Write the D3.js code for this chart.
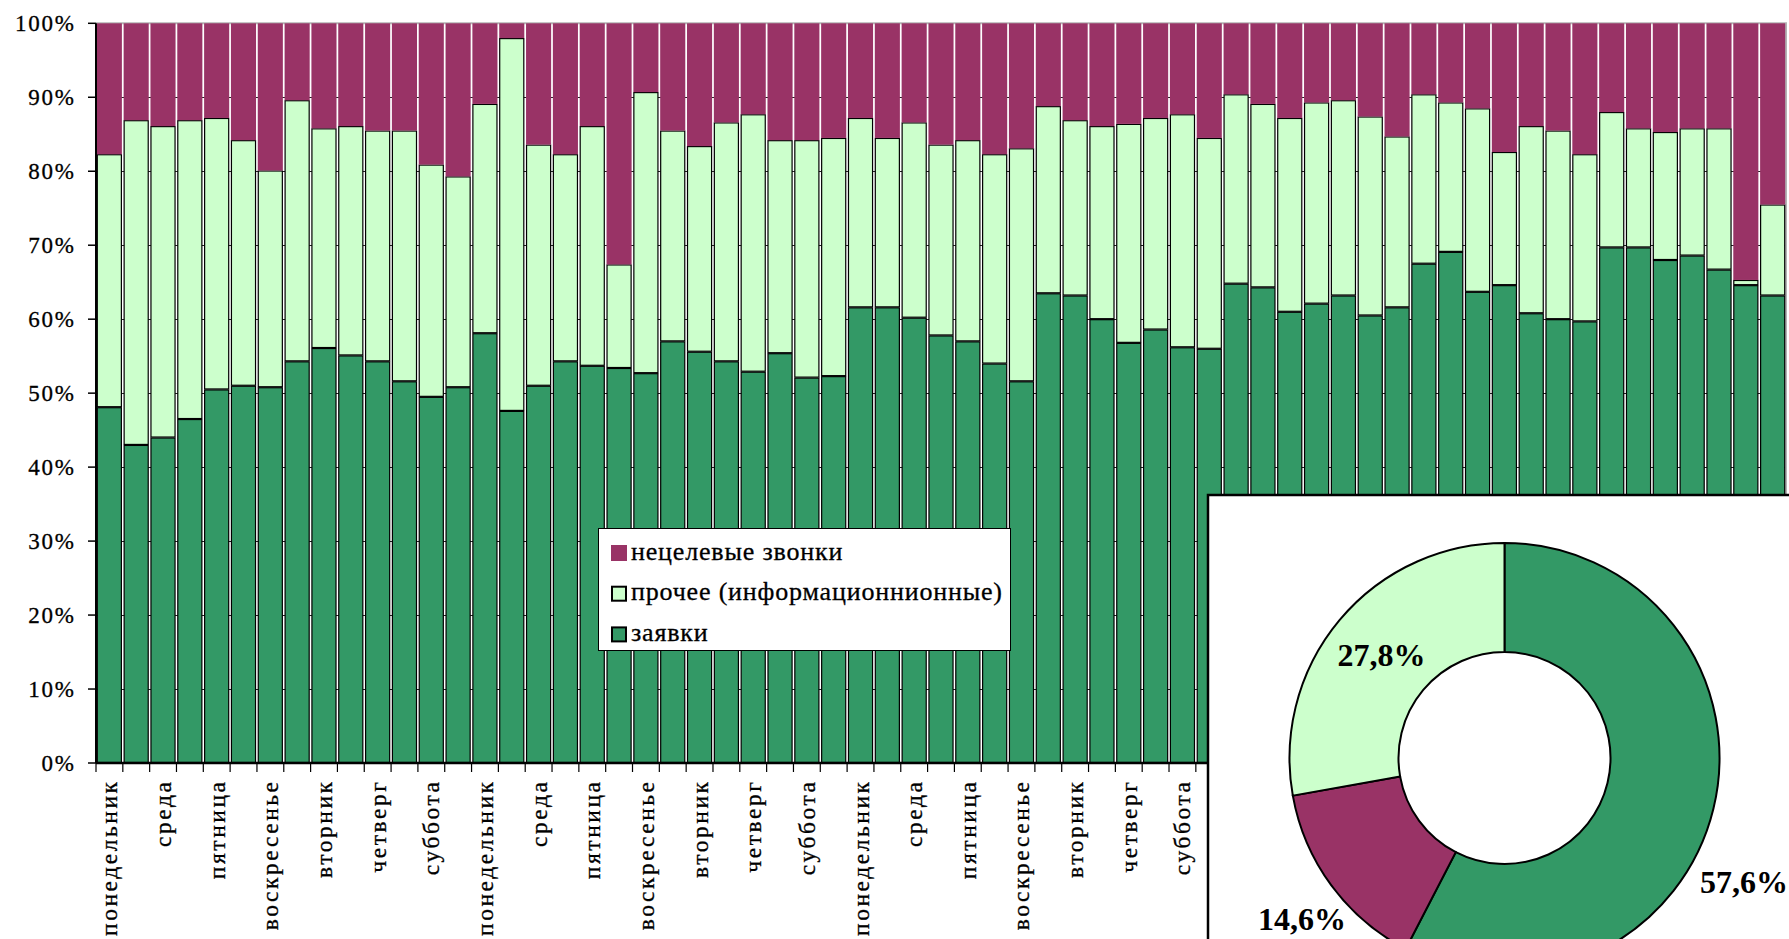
<!DOCTYPE html>
<html>
<head>
<meta charset="utf-8">
<script src="https://cdn.jsdelivr.net/npm/d3@7"></script>
<style>
  html, body { margin: 0; padding: 0; background: #fff; overflow: hidden; }
  svg { display: block; }
  text { font-family: "Liberation Serif", "Times New Roman", serif; fill: #000; }
  text.plain { stroke: #000; stroke-width: 0.3px; }
</style>
</head>
<body>
<svg id="chart" width="1789" height="939"></svg>
<script>
// Daily call mix, share of each call type per day (percent)
const days = [
  "понедельник","вторник","среда","четверг","пятница","суббота","воскресенье",
  "понедельник","вторник","среда","четверг","пятница","суббота","воскресенье",
  "понедельник","вторник","среда","четверг","пятница","суббота","воскресенье",
  "понедельник","вторник","среда","четверг","пятница","суббота","воскресенье",
  "понедельник","вторник","среда","четверг","пятница","суббота","воскресенье",
  "понедельник","вторник","среда","четверг","пятница","суббота","воскресенье",
  "понедельник","вторник","среда","четверг","пятница","суббота","воскресенье",
  "понедельник","вторник","среда","четверг","пятница","суббота","воскресенье",
  "понедельник","вторник","среда","четверг","пятница","суббота","воскресенье"
];

// заявки
const zayavki = [
  48.1, 43.0, 44.0, 46.5, 50.5, 51.0, 50.8,
  54.3, 56.1, 55.1, 54.3, 51.6, 49.5, 50.8,
  58.1, 47.6, 51.0, 54.3, 53.7, 53.4, 52.7,
  57.0, 55.6, 54.3, 52.9, 55.4, 52.1, 52.3,
  61.6, 61.6, 60.2, 57.8, 57.0, 54.0, 51.6,
  63.5, 63.2, 60.0, 56.8, 58.6, 56.2, 56.0,
  64.8, 64.3, 61.0, 62.1, 63.2, 60.5, 61.6,
  67.5, 69.1, 63.7, 64.6, 60.8, 60.0, 59.7,
  69.7, 69.7, 68.0, 68.6, 66.7, 64.6, 63.2
];

// прочее (информационные)
const prochee = [
  34.2, 43.9, 42.1, 40.4, 36.7, 33.2, 29.3,
  35.3, 29.7, 31.0, 31.2, 33.9, 31.4, 28.5,
  31.0, 50.4, 32.6, 28.0, 32.4, 14.0, 38.0,
  28.5, 27.8, 32.3, 34.8, 28.8, 32.1, 32.2,
  25.6, 22.9, 26.4, 25.8, 27.2, 28.3, 31.5,
  25.3, 23.7, 26.1, 29.6, 28.6, 31.5, 28.5,
  25.6, 24.8, 26.2, 27.2, 26.4, 26.9, 23.1,
  22.9, 20.2, 24.8, 18.0, 25.3, 25.5, 22.6,
  18.3, 16.1, 17.3, 17.2, 19.1, 0.7, 12.3
];

// нецелевые звонки
const netselevye = [
  17.7, 13.1, 13.9, 13.1, 12.8, 15.8, 19.9,
  10.4, 14.2, 13.9, 14.5, 14.5, 19.1, 20.7,
  10.9, 2.0, 16.4, 17.7, 13.9, 32.6, 9.3,
  14.5, 16.6, 13.4, 12.3, 15.8, 15.8, 15.5,
  12.8, 15.5, 13.4, 16.4, 15.8, 17.7, 16.9,
  11.2, 13.1, 13.9, 13.6, 12.8, 12.3, 15.5,
  9.6, 10.9, 12.8, 10.7, 10.4, 12.6, 15.3,
  9.6, 10.7, 11.5, 17.4, 13.9, 14.5, 17.7,
  12.0, 14.2, 14.7, 14.2, 14.2, 34.7, 24.5
];

const yTicks = [0, 10, 20, 30, 40, 50, 60, 70, 80, 90, 100];

// overall totals for the whole period
const pieSeries = ["заявки", "нецелевые звонки", "прочее (информационнионные)"];
const pieValues = [57.6, 14.6, 27.8];
const pieTexts = ["57,6%", "14,6%", "27,8%"];

const legendSeries = ["нецелевые звонки", "прочее (информационнионные)", "заявки"];

const colors = {
  "заявки": "#339966",
  "прочее (информационнионные)": "#CCFFCC",
  "нецелевые звонки": "#993366"
};

// ---------- layout ----------
const svg = d3.select("#chart");
const plot = { left: 96, right: 1786, top: 23.3, bottom: 763 };

// letter spacing that makes a sample string span a given width
function spacingFor(sample, fontSize, width) {
  const t = svg.append("text").attr("font-size", fontSize).text(sample);
  const natural = t.node().getComputedTextLength();
  t.remove();
  return (width - natural) / (sample.length - 1);
}

const rows = days.map((d, i) => ({
  i: i,
  day: d,
  "заявки": zayavki[i],
  "прочее (информационнионные)": prochee[i],
  "нецелевые звонки": netselevye[i]
}));

const stackKeys = ["заявки", "прочее (информационнионные)", "нецелевые звонки"];
const series = d3.stack().keys(stackKeys).offset(d3.stackOffsetExpand)(rows);

const x = d3.scaleBand()
  .domain(rows.map(r => r.i))
  .range([plot.left, plot.right])
  .paddingInner(0.065)
  .paddingOuter(0.03);

const y = d3.scaleLinear().domain([0, 1]).range([plot.bottom, plot.top]);
const yPct = d3.scaleLinear().domain([0, 100]).range([plot.bottom, plot.top]);

// plot area
svg.append("rect")
  .attr("x", plot.left).attr("y", plot.top)
  .attr("width", plot.right - plot.left).attr("height", plot.bottom - plot.top)
  .attr("fill", "#fff");

// gridlines
svg.append("g")
  .selectAll("line")
  .data(yTicks.filter(t => t > 0 && t < 100))
  .join("line")
  .attr("x1", plot.left).attr("x2", plot.right)
  .attr("y1", d => Math.round(yPct(d)) + 0.5).attr("y2", d => Math.round(yPct(d)) + 0.5)
  .attr("stroke", "#222").attr("stroke-width", 1);

// plot frame (top and right)
svg.append("path")
  .attr("d", `M${plot.left},${plot.top} H${plot.right} V${plot.bottom}`)
  .attr("fill", "none").attr("stroke", "#b4b4b4").attr("stroke-width", 2);

// stacked bars
const barG = svg.append("g");
series.forEach(s => {
  const outlined = s.key !== "нецелевые звонки";
  barG.append("g")
    .selectAll("rect")
    .data(s)
    .join("rect")
    .attr("x", (d, j) => x(j) + (outlined ? 0.5 : 0))
    .attr("width", x.bandwidth() - (outlined ? 1 : 0))
    .attr("y", d => y(d[1]) + (outlined ? 0.5 : 0))
    .attr("height", d => Math.max(0, y(d[0]) - y(d[1]) - (outlined ? 1 : 0)))
    .attr("fill", colors[s.key])
    .attr("stroke", outlined ? "#000" : "none")
    .attr("stroke-width", outlined ? 1.2 : 0);
});

// y axis
const yFont = 23;
const yLs = spacingFor("100%", yFont, 59);
const yAxis = svg.append("g");
yAxis.append("line")
  .attr("x1", plot.left).attr("x2", plot.left)
  .attr("y1", plot.top).attr("y2", plot.bottom)
  .attr("stroke", "#000").attr("stroke-width", 2);
yAxis.selectAll("line.tick")
  .data(yTicks)
  .join("line")
  .attr("class", "tick")
  .attr("x1", plot.left - 8).attr("x2", plot.left)
  .attr("y1", d => yPct(d)).attr("y2", d => yPct(d))
  .attr("stroke", "#000").attr("stroke-width", 1.5);
yAxis.selectAll("text")
  .data(yTicks)
  .join("text")
  .attr("class", "plain")
  .attr("x", 74 + yLs)
  .attr("y", d => yPct(d) + 8)
  .attr("text-anchor", "end")
  .attr("font-size", yFont)
  .attr("letter-spacing", yLs)
  .text(d => d + "%");

// x axis
const xFont = 23.5;
const xLs = spacingFor("понедельник", xFont, 154);
const xAxis = svg.append("g");
xAxis.append("line")
  .attr("x1", plot.left).attr("x2", plot.right)
  .attr("y1", plot.bottom).attr("y2", plot.bottom)
  .attr("stroke", "#000").attr("stroke-width", 2.5);
const boundaries = d3.range(rows.length + 1);
const slot = (plot.right - plot.left) / rows.length;
xAxis.selectAll("line.tick")
  .data(boundaries)
  .join("line")
  .attr("class", "tick")
  .attr("x1", b => plot.left + b * slot)
  .attr("x2", b => plot.left + b * slot)
  .attr("y1", plot.bottom).attr("y2", plot.bottom + 9)
  .attr("stroke", "#000").attr("stroke-width", 1.2);
xAxis.selectAll("text")
  .data(rows.filter(r => r.i % 2 === 0))
  .join("text")
  .attr("class", "plain")
  .attr("transform", r => `translate(${x(r.i) + x.bandwidth() / 2 + 8},${782 - xLs}) rotate(-90)`)
  .attr("text-anchor", "end")
  .attr("font-size", xFont)
  .attr("letter-spacing", xLs)
  .text(r => r.day);

// legend
const legFont = 26;
const legLs = spacingFor("прочее (информационнионные)", legFont, 371);
const legend = svg.append("g");
legend.append("rect")
  .attr("x", 598.5).attr("y", 528.5)
  .attr("width", 412).attr("height", 122)
  .attr("fill", "#fff").attr("stroke", "#000").attr("stroke-width", 1);
const legendItems = legend.selectAll("g.item")
  .data(legendSeries)
  .join("g")
  .attr("class", "item")
  .attr("transform", (d, i) => `translate(0,${553 + i * 40.7})`);
legendItems.append("rect")
  .attr("x", d => d === "нецелевые звонки" ? 611 : 612)
  .attr("y", d => d === "нецелевые звонки" ? -8 : -7)
  .attr("width", d => d === "нецелевые звонки" ? 16 : 14)
  .attr("height", d => d === "нецелевые звонки" ? 16 : 14)
  .attr("fill", d => colors[d])
  .attr("stroke", d => d === "нецелевые звонки" ? "none" : "#000")
  .attr("stroke-width", 2);
legendItems.append("text")
  .attr("class", "plain")
  .attr("x", 631)
  .attr("y", 6.5)
  .attr("font-size", legFont)
  .attr("letter-spacing", legLs)
  .text(d => d);

// totals panel with doughnut
const panel = svg.append("g");
panel.append("rect")
  .attr("x", 1208).attr("y", 495)
  .attr("width", 700).attr("height", 600)
  .attr("fill", "#fff").attr("stroke", "#000").attr("stroke-width", 2.5);

const cx = 1504.5, cy = 758, rOuter = 215, rInner = 106;
const pieData = d3.pie().sort(null).value(d => d.v)(
  pieSeries.map((k, i) => ({ k: k, v: pieValues[i], t: pieTexts[i] }))
);
const arc = d3.arc().innerRadius(rInner).outerRadius(rOuter);
const donut = panel.append("g").attr("transform", `translate(${cx},${cy})`);
donut.selectAll("path")
  .data(pieData)
  .join("path")
  .attr("d", arc)
  .attr("fill", d => colors[d.data.k])
  .attr("stroke", "#000").attr("stroke-width", 2);

// percentage labels: the largest share sits outside to the right,
// the smallest outside at the lower left, the middle one inside the ring
const outerArc = d3.arc().innerRadius(265).outerRadius(265);
const labelNudge = {
  "заявки": [-18, 61],
  "нецелевые звонки": [11, 4]
};
donut.selectAll("text")
  .data(pieData)
  .join("text")
  .attr("x", d => {
    const nudge = labelNudge[d.data.k];
    return nudge ? outerArc.centroid(d)[0] + nudge[0] : arc.centroid(d)[0];
  })
  .attr("y", d => {
    const nudge = labelNudge[d.data.k];
    return (nudge ? outerArc.centroid(d)[1] + nudge[1] : arc.centroid(d)[1]) + 11;
  })
  .attr("text-anchor", "middle")
  .attr("font-size", 32)
  .attr("font-weight", "bold")
  .text(d => d.data.t);
</script>
</body>
</html>
